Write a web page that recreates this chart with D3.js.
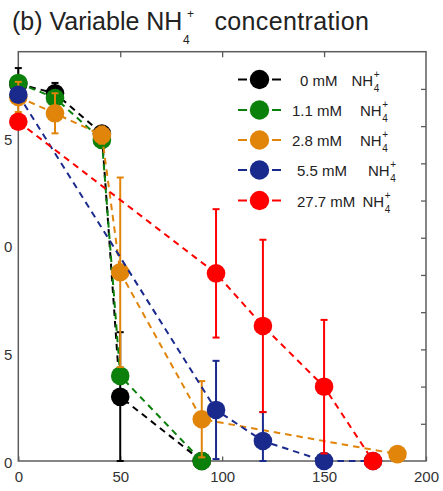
<!DOCTYPE html>
<html>
<head>
<meta charset="utf-8">
<script src="https://cdn.jsdelivr.net/npm/d3@7"></script>
<style>
  body { margin: 0; background: #fff; }
  text { font-family: "Liberation Sans", Arial, Helvetica, sans-serif; }
</style>
</head>
<body>
<svg id="chart" width="443" height="491"></svg>
<script>
// Time (h) and NH4+-dependent values for each treatment
const seriesNames = ["0 mM", "1.1 mM", "2.8 mM", "5.5 mM", "27.7 mM"];
const seriesColors = ["#000000", "#0b800b", "#e0850a", "#1a2a8c", "#ff0000"];

const time0 = [0, 18, 41, 50, 90];
const value0 = [17.50, 17.07, 15.20, 2.98, 0];
const error0 = [0.74, 0.48, 0.35, 3.00, 0];

const time1 = [0, 18, 41, 50, 90];
const value1 = [17.55, 16.85, 14.90, 3.95, 0];
const error1 = [0, 0, 0, 0, 0];

const time2 = [0, 18, 41, 50, 90, 186];
const value2 = [16.90, 16.14, 15.13, 8.76, 1.94, 0.32];
const error2 = [0.70, 0.93, 0.40, 4.40, 1.77, 0];

const time3 = [0, 97, 120, 150, 174];
const value3 = [17.00, 2.37, 0.93, 0, 0];
const error3 = [0, 2.28, 1.34, 0, 0];

const time4 = [0, 97, 120, 150, 174];
const value4 = [15.75, 8.71, 6.27, 3.45, 0];
const error4 = [0, 2.98, 4.00, 3.10, 0];

const xTicks = [0, 50, 100, 150, 200];
const yTicks = [0, 5, 10, 15];
// the y labels only show their last digit at the page's left edge
const yTickLabels = ["0", "5", "0", "5"];
const rightTicks = [1, 2, 3, 4, 5, 6, 7, 8, 9, 10];

const allTimes = [time0, time1, time2, time3, time4];
const allValues = [value0, value1, value2, value3, value4];
const allErrors = [error0, error1, error2, error3, error4];

const series = seriesNames.map((name, i) => ({
  name,
  color: seriesColors[i],
  points: allTimes[i].map((t, j) => ({ t, v: allValues[i][j], e: allErrors[i][j] }))
}));

// Layout
const plot = { left: 18.3, right: 426, top: 51.7, bottom: 461 };
const svg = d3.select("#chart");

const x = d3.scaleLinear().domain([0, 200]).range([plot.left, plot.right]);
const y = d3.scaleLinear().domain([0, 19]).range([plot.bottom, plot.top]);
const yRight = d3.scaleLinear().domain([0, 11]).range([plot.bottom, plot.top]);

const axisColor = "#5c5c5c";
const labelColor = "#333";

// Title with NH4+ sub/superscript
const title = svg.append("g").attr("fill", "#222");
const titleMain = title.append("text")
  .attr("x", 12).attr("y", 30).attr("font-size", 25)
  .text("(b) Variable NH");
const tw = titleMain.node().getComputedTextLength();
title.append("text").attr("x", 12 + tw + 0.5).attr("y", 43.5).attr("font-size", 12).text("4");
title.append("text").attr("x", 12 + tw + 4.5).attr("y", 18).attr("font-size", 12).text("+");
title.append("text").attr("x", 214.5).attr("y", 30).attr("font-size", 25)
  .attr("letter-spacing", 0.35).text("concentration");

// Axes
const gx = svg.append("g").attr("transform", `translate(0,${plot.bottom})`)
  .call(d3.axisBottom(x).tickValues(xTicks).tickSizeInner(-4.5).tickSizeOuter(0).tickPadding(10));
const gxTop = svg.append("g").attr("transform", `translate(0,${plot.top})`)
  .call(d3.axisTop(x).tickValues([50, 100, 150]).tickSizeInner(-5.5).tickSizeOuter(0).tickFormat(""));
const gy = svg.append("g").attr("transform", `translate(${plot.left},0)`)
  .call(d3.axisLeft(y).tickValues(yTicks).tickSize(0).tickPadding(6)
    .tickFormat((d, i) => yTickLabels[i]));
const gyR = svg.append("g").attr("transform", `translate(${plot.right},0)`)
  .call(d3.axisRight(yRight).tickValues(rightTicks).tickSizeInner(-5).tickSizeOuter(0).tickFormat(""));

[gx, gxTop, gy, gyR].forEach(g => {
  g.select(".domain").remove();
  g.selectAll(".tick line").attr("stroke", axisColor).attr("stroke-width", 1.3);
  g.selectAll(".tick text").attr("fill", labelColor).attr("font-size", 15)
    .attr("font-family", "'Liberation Sans', Arial, sans-serif");
});
gy.selectAll(".tick text").attr("dy", "0.42em");

// Frame
svg.append("rect")
  .attr("x", plot.left).attr("y", plot.top)
  .attr("width", plot.right - plot.left).attr("height", plot.bottom - plot.top)
  .attr("fill", "none").attr("stroke", axisColor).attr("stroke-width", 1.5);

// Series: dashed line, error bars, markers
const line = d3.line().x(d => x(d.t)).y(d => y(d.v));
const markerR = 9.3;
const capHalf = 3.5;

series.forEach(s => {
  const g = svg.append("g");
  g.append("path").datum(s.points)
    .attr("d", line).attr("fill", "none")
    .attr("stroke", s.color).attr("stroke-width", 2)
    .attr("stroke-dasharray", "6.5,5");

  const eb = s.points.filter(p => p.e > 0);
  const bars = g.selectAll(".eb").data(eb).join("g").attr("stroke", s.color).attr("stroke-width", 2);
  bars.append("line")
    .attr("x1", d => x(d.t)).attr("x2", d => x(d.t))
    .attr("y1", d => y(d.v + d.e)).attr("y2", d => y(Math.max(0, d.v - d.e)));
  bars.append("line")
    .attr("x1", d => x(d.t) - capHalf).attr("x2", d => x(d.t) + capHalf)
    .attr("y1", d => y(d.v + d.e)).attr("y2", d => y(d.v + d.e));
  bars.append("line")
    .attr("x1", d => x(d.t) - capHalf).attr("x2", d => x(d.t) + capHalf)
    .attr("y1", d => y(Math.max(0, d.v - d.e))).attr("y2", d => y(Math.max(0, d.v - d.e)));

  g.selectAll("circle").data(s.points).join("circle")
    .attr("cx", d => x(d.t)).attr("cy", d => y(d.v)).attr("r", markerR)
    .attr("fill", s.color);
});

// Legend
const legendRowY = [79.5, 110, 140, 170, 200.5];
const legendTextX = [300, 292, 292, 297, 297];
const legendNHX = [351.5, 360, 360, 368, 362.5];
const legend = svg.append("g");
series.forEach((s, i) => {
  const cy = legendRowY[i];
  legend.append("line")
    .attr("x1", 238).attr("x2", 281).attr("y1", cy).attr("y2", cy)
    .attr("stroke", s.color).attr("stroke-width", 2)
    .attr("stroke-dasharray", "9,25");
  legend.append("circle").attr("cx", 259.5).attr("cy", cy).attr("r", markerR + 0.4).attr("fill", s.color);
  legend.append("text").attr("x", legendTextX[i]).attr("y", cy + 6)
    .attr("font-size", 15).attr("fill", "#222").text(s.name);
  const nh = legend.append("text").attr("x", legendNHX[i]).attr("y", cy + 6)
    .attr("font-size", 15).attr("fill", "#222").text("NH");
  const w = nh.node().getComputedTextLength();
  legend.append("text").attr("x", legendNHX[i] + w + 0.5).attr("y", cy - 2)
    .attr("font-size", 10).attr("fill", "#222").text("+");
  legend.append("text").attr("x", legendNHX[i] + w + 0.5).attr("y", cy + 12)
    .attr("font-size", 10).attr("fill", "#222").text("4");
});
</script>
</body>
</html>
